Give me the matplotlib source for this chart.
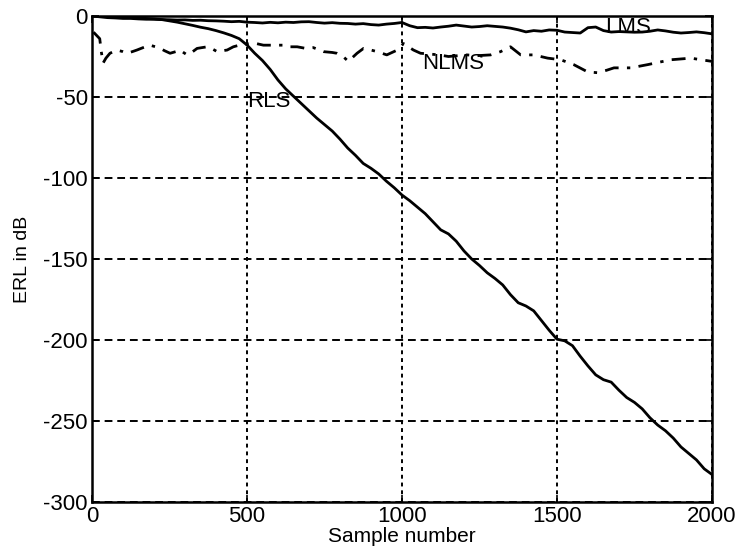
import matplotlib.pyplot as plt
from matplotlib import font_manager

# ERL convergence of three adaptive filters (values in dB)
rls_n = list(range(0, 2001, 25))
rls_erl = [0, -0.2, -0.4, -0.6, -0.8, -1.0, -1.2, -1.5, -1.8, -2.2,
           -3.0, -3.8, -4.8, -5.8, -6.9, -7.8, -9.0, -10.4, -12.0, -14.0,
           -17.9, -23, -27.5, -33, -39.5, -45, -49.5, -54, -58.5, -63,
           -67, -71, -76, -81.5, -86, -91, -94, -97.5, -102, -106,
           -110.5, -114, -118, -122, -127, -132, -134.5, -139, -145, -150,
           -154, -158.5, -162, -166, -172, -177, -179, -182, -188, -194,
           -199.5, -200.5, -203.5, -210, -216, -221.5, -224.5, -226, -231, -235.5,
           -238.5, -242.5, -248, -252.5, -256, -260.5, -266, -270, -274, -279.5,
           -283]

lms_n = list(range(0, 2001, 25))
lms_erl = [0, -0.5, -1.0, -1.2, -1.5, -1.5, -1.8, -2.0, -2.0, -2.2,
           -2.3, -2.5, -2.4, -2.7, -2.6, -2.9, -3.0, -3.2, -3.5, -3.3,
           -3.8, -4.0, -4.3, -3.9, -4.2, -3.8, -4.0, -3.6, -3.5, -4.0,
           -4.4, -4.1, -4.5, -4.6, -5.0, -4.7, -5.3, -5.6, -5.0, -4.6,
           -4.0, -6.0, -7.2, -7.0, -7.4, -6.8, -6.3, -5.6, -6.2, -6.8,
           -6.5, -6.0, -6.4, -6.8, -7.5, -8.5, -9.8, -9.0, -9.4, -8.6,
           -8.8, -9.9, -10.2, -10.5, -7.2, -6.8, -9.0, -9.9, -9.6, -9.8,
           -10.0, -9.9, -9.4, -8.6, -9.2, -10.0, -10.5, -10.2, -9.8, -10.3,
           -11.0]

nlms_n = [5, 15, 25, 30, 36, 45, 58, 80, 100, 113, 130, 145, 165, 187, 205,
          220, 235, 252, 270, 284, 295, 307, 325, 339, 355, 372, 390, 404,
          420, 436, 456, 475, 490, 511, 530, 553, 585, 617, 630, 662, 690,
          714, 747, 775, 790, 810, 827, 855, 876, 900, 920, 951, 985, 1005,
          1037, 1060, 1090, 1120, 1150, 1180, 1210, 1240, 1286, 1318, 1350,
          1383, 1425, 1470, 1512, 1554, 1599, 1631, 1660, 1684, 1738, 1793,
          1830, 1868, 1900, 1932, 1965, 2000]
nlms_erl = [-10, -12, -14, -22, -29, -26, -23, -21, -22, -23, -22, -21, -19.5,
            -18, -19, -20, -21.5, -23, -22, -21, -22.5, -24, -22, -20, -19.5,
            -19, -20.5, -22, -21.5, -21, -19, -18, -17.5, -17, -17, -18, -18,
            -18, -19, -19, -20, -19.5, -22, -22.5, -23, -25, -28, -23, -20,
            -21, -22, -24, -21, -17, -21, -23, -23.5, -24, -25, -24.5, -24,
            -24.5, -24, -22, -19, -24, -24, -26, -27, -30, -34.5, -35, -33.5,
            -32, -32, -30, -28.5, -27, -26.5, -26, -27, -28]

x_ticks = [0, 500, 1000, 1500, 2000]
y_ticks = [0, -50, -100, -150, -200, -250, -300]

installed = {f.name for f in font_manager.fontManager.ttflist}
narrow = 'Liberation Sans Narrow' if 'Liberation Sans Narrow' in installed else 'Liberation Sans'
plt.rcParams['font.family'] = ['Liberation Sans', 'DejaVu Sans']
plt.rcParams['axes.unicode_minus'] = False

fig = plt.figure(figsize=(7.4, 5.56), dpi=100)
ax = fig.add_axes([0.1243, 0.0971, 0.8378, 0.8741])

ax.plot(lms_n, lms_erl, color='k', lw=2.0)
ax.plot(nlms_n, nlms_erl, color='k', lw=2.0, linestyle=(0, (5, 3, 1.2, 3)))
ax.plot(rls_n, rls_erl, color='k', lw=2.0)

ax.text(1655, -10.5, 'LMS', fontsize=16, family=narrow, va='baseline')
ax.text(1066, -33, 'NLMS', fontsize=16, family=narrow, va='baseline')
ax.text(500, -56, 'RLS', fontsize=16, family=narrow, va='baseline')

ax.set_xlim(0, 2000)
ax.set_ylim(-300, 0)
ax.set_xticks(x_ticks)
ax.set_yticks(y_ticks)
ax.tick_params(direction='in', length=5, width=1.2, top=True, right=True,
               labelsize=16, pad=3)
for lab in ax.get_xticklabels() + ax.get_yticklabels():
    lab.set_family(narrow)

ax.xaxis.grid(True, color='k', linestyle=(0, (2, 2)), lw=1.4)
ax.yaxis.grid(True, color='k', linestyle=(0, (4, 2.5)), lw=1.4)
ax.set_axisbelow(True)
for sp in ax.spines.values():
    sp.set_linewidth(1.8)

ax.set_xlabel('Sample number', fontsize=15, labelpad=0)
ax.set_ylabel('ERL in dB', fontsize=14, labelpad=9)

fig.savefig('out.png', dpi=100)
